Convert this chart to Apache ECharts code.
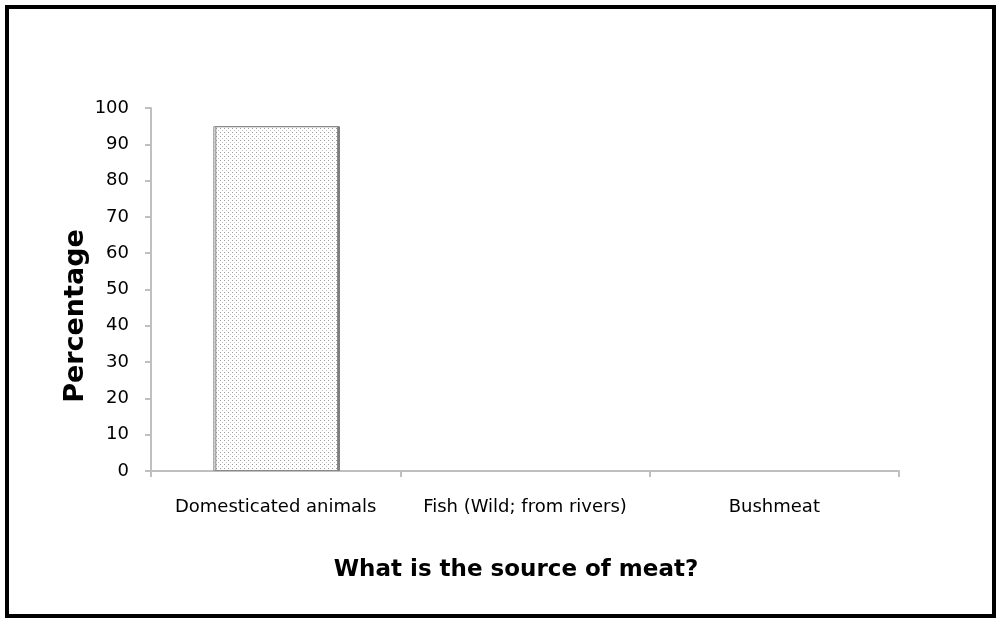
<!DOCTYPE html>
<html>
<head>
<meta charset="utf-8">
<script src="https://cdn.jsdelivr.net/npm/echarts@6/dist/echarts.min.js"></script>
<style>
html,body{margin:0;padding:0;background:#fff;}
#chart{width:996px;height:618px;}
</style>
</head>
<body>
<div id="chart"></div>
<script>
var categories = ["Domesticated animals", "Fish (Wild; from rivers)", "Bushmeat"];
var percentages = [95, 0, 0];
var yTicks = [0, 10, 20, 30, 40, 50, 60, 70, 80, 90, 100];
var xTitle = "What is the source of meat?";
var yTitle = "Percentage";

function makePattern() {
  var c = document.createElement('canvas');
  c.width = 4; c.height = 4;
  var ctx = c.getContext('2d');
  ctx.fillStyle = '#ffffff';
  ctx.fillRect(0, 0, 4, 4);
  ctx.fillStyle = '#9c9c9c';
  ctx.fillRect(0, 0, 1, 1);
  ctx.fillStyle = '#c4c4c4';
  ctx.fillRect(2, 2, 1, 1);
  return c;
}

var pattern = makePattern();
var barData = percentages.map(function (v) {
  return {
    value: v,
    itemStyle: v > 0 ? {
      color: {image: pattern, repeat: 'repeat'},
      borderColor: '#8a8a8a', borderWidth: 1,
      shadowColor: '#808080', shadowOffsetX: 2, shadowOffsetY: 0, shadowBlur: 0
    } : {color: 'transparent', borderWidth: 0}
  };
});

var chart = echarts.init(document.getElementById('chart'), null, {renderer: 'canvas'});
var font = 'DejaVu Sans, Verdana, sans-serif';
chart.setOption({
  animation: false,
  backgroundColor: '#ffffff',
  grid: {left: 151, top: 108, right: 97, bottom: 147, containLabel: false},
  graphic: [{
    type: 'rect',
    shape: {x: 7, y: 7, width: 987, height: 609},
    style: {fill: null, stroke: '#000', lineWidth: 4},
    silent: true
  }, {
    type: 'text',
    x: 76, y: 316,
    rotation: Math.PI / 2,
    style: {text: yTitle, font: 'bold 27px ' + font, fill: '#000', align: 'center', verticalAlign: 'middle'},
    silent: true
  }, {
    type: 'text',
    x: 516, y: 570,
    style: {text: xTitle, font: 'bold 23px ' + font, fill: '#000', align: 'center', verticalAlign: 'middle'},
    silent: true
  }],
  xAxis: {
    type: 'category',
    data: categories,
    axisLine: {lineStyle: {color: '#bfbfbf', width: 2}},
    axisTick: {show: true, length: 6, lineStyle: {color: '#bfbfbf', width: 2}},
    axisLabel: {interval: 0, margin: 27, fontFamily: font, fontSize: 18, color: '#000'}
  },
  yAxis: {
    type: 'value',
    min: 0, max: 100, interval: 10,
    splitLine: {show: false},
    axisLine: {show: true, lineStyle: {color: '#bfbfbf', width: 2}},
    axisTick: {show: true, length: 6, lineStyle: {color: '#bfbfbf', width: 2}},
    axisLabel: {margin: 22, fontFamily: font, fontSize: 18, color: '#000',
      formatter: function (v) { return yTicks.indexOf(v) >= 0 ? String(v) : ''; }}
  },
  series: [{
    type: 'bar',
    data: barData,
    barWidth: '50%'
  }]
});
</script>
</body>
</html>
